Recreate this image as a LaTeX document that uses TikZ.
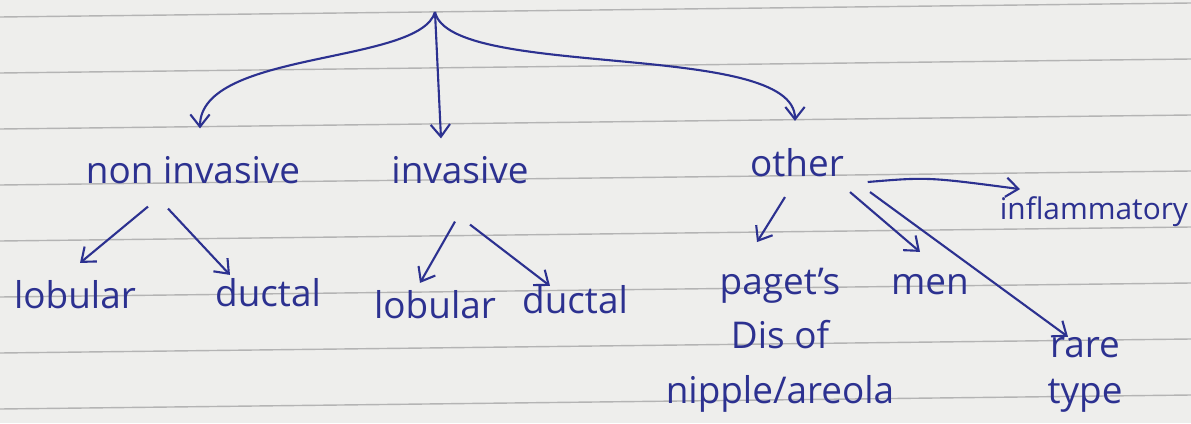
\documentclass[tikz,border=0pt]{standalone}
\usepackage{fontspec}
\setmainfont{Open Sans}
\usetikzlibrary{positioning,calc,arrows.meta}
\definecolor{inkblue}{HTML}{2C3190}
\definecolor{paper}{HTML}{EEEEEC}
\definecolor{ruling}{HTML}{B4B4B4}

\begin{document}
\begin{tikzpicture}[
    x=0.02cm, y=-0.02cm,
    word/.style={text=inkblue, font=\fontsize{21}{31}\selectfont, inner sep=2pt, align=center},
    link/.style={draw=inkblue, line width=1.2pt, -{Straight Barb[length=7pt,width=11pt]}}
  ]
    \useasboundingbox (0,0) rectangle (1191,423);
    \fill[paper] (0,0) rectangle (1191,423);
    % notebook ruling
    \foreach \k in {0,...,7}
      \draw[ruling, line width=0.8pt] (0,17+56*\k) -- (1191,3+56*\k);

    \coordinate (root) at (435,12);

    \node[word] (noninv) at (193,170) {non invasive};
    \node[word] (inv) at (460,170) {invasive};
    \node[word] (other) at (797,163) {other};

    \node[word] (lob1) at (75,295) {lobular};
    \node[word] (duct1) at (268,293) {ductal};
    \node[word] (lob2) at (435,305) {lobular};
    \node[word] (duct2) at (575,300) {ductal};

    \node[word] (paget) at (780,340) {paget's\\Dis of\\nipple/areola};
    \node[word] (men) at (930,285) {men};
    \node[word, anchor=west, font=\fontsize{17}{24}\selectfont] (inflam) at (996,212) {inflammatory};
    \node[word, font=\fontsize{21}{26}\selectfont] (rare) at (1085,375) {rare\\type};

    % first level
    \draw[link] (root) .. controls (420,65) and (200,50) .. ($(noninv.north)+(7,-24)$);
    \draw[link] (root) -- ($(inv.north)+(-19,-14)$);
    \draw[link] (root) .. controls (450,80) and (795,40) .. ($(other.north)+(-2,-24)$);

    % second level
    \draw[link] ($(noninv.south)+(-45,19)$) -- ($(lob1.north)+(5,-14)$);
    \draw[link] ($(noninv.south)+(-25,21)$) -- ($(duct1.north)+(-38,0)$);
    \draw[link] ($(inv.south)+(-5,34)$) -- ($(lob2.north)+(-15,-4)$);
    \draw[link] ($(inv.south)+(10,37)$) -- ($(duct2.north)+(-25,4)$);

    \draw[link] ($(other.south)+(-12,16)$) -- ($(paget.north)+(-23,-22)$);
    \draw[link] ($(other.south)+(53,11)$) -- ($(men.north)+(-10,-19)$);
    \draw[link] ($(other.south)+(73,11)$) -- ($(rare.north)+(-17,3)$);
    \draw[link] ($(other.east)+(20,19)$) .. controls ($(other.east)+(80,14)$) .. ($(inflam.north west)+(24,-4)$);
\end{tikzpicture}
\end{document}
